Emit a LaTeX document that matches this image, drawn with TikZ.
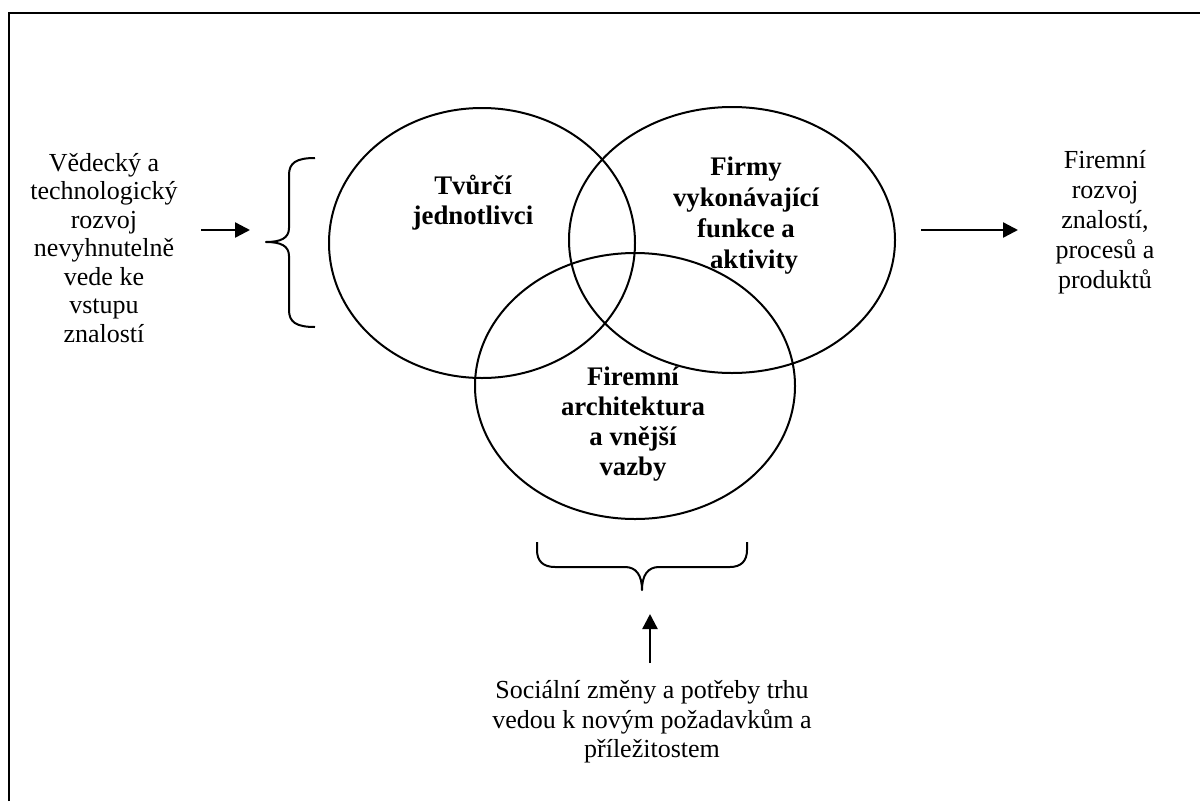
\documentclass[tikz,border=0pt]{standalone}
\usepackage{fontspec}
\setmainfont{Liberation Serif}
\usetikzlibrary{arrows.meta,shapes.geometric}
\begin{document}
\begin{tikzpicture}[x=1pt,y=-1pt,
  ring/.style={draw,ellipse,line width=2pt,inner sep=0pt},
  plain/.style={align=center,font=\fontsize{26}{28.5}\selectfont},
  loose/.style={align=center,font=\fontsize{26}{30}\selectfont},
  heavy/.style={align=center,font=\fontsize{26.8}{30}\selectfont\bfseries},
  flow/.style={line width=2.4pt,-{Triangle[length=15pt,width=15pt]}},
  brace/.style={line width=2pt,line join=round}]
\useasboundingbox (0,0) rectangle (1200,801);

% frame
\draw[line width=2.5pt] (9,801) -- (9,13) -- (1200,13);

% three overlapping circles
\node[ring,minimum width=306pt,minimum height=270pt] (indiv) at (482,243) {};
\node[ring,minimum width=326pt,minimum height=266pt] (firms) at (732,240) {};
\node[ring,minimum width=320pt,minimum height=266pt] (arch) at (635,386) {};

\node[heavy] (tindiv) at (473,203) {Tvůrčí\\jednotlivci};
\node[heavy,font=\fontsize{26.8}{31}\selectfont\bfseries] (tfirms) at (746,216)
  {Firmy\\vykonávající\\funkce a\\\hspace*{16pt}aktivity};
\node[heavy] (tarch) at (633,424) {Firemní\\architektura\\a vnější\\vazby};

% side and bottom texts
\node[plain] (science) at (104,248) {Vědecký a\\technologický\\rozvoj\\nevyhnutelně\\vede ke\\vstupu\\znalostí};
\node[loose] (output) at (1105,222) {Firemní\\rozvoj\\znalostí,\\procesů a\\produktů};
\node[plain,font=\fontsize{26}{29.5}\selectfont] (social) at (652,722) {Sociální změny a potřeby trhu\\vedou k novým požadavkům a\\příležitostem};

% braces
\draw[brace] (315,158) .. controls (296,158) and (289,163) .. (289,175) -- (289,228)
  .. controls (289,238) and (281,242) .. (266,242)
  .. controls (281,242) and (289,246) .. (289,256) -- (289,310)
  .. controls (289,322) and (296,327) .. (315,327);
\draw[brace] (537,542) -- (537,550) .. controls (537,561) and (543,567) .. (555,567) -- (625,567)
  .. controls (636,567) and (642,575) .. (642,590)
  .. controls (642,575) and (648,567) .. (659,567) -- (730,567)
  .. controls (741,567) and (747,561) .. (747,550) -- (747,542);

% arrows
\coordinate (inA) at (201,230);
\coordinate (inB) at (250,230);
\coordinate (outA) at (921,230);
\coordinate (outB) at (1018,230);
\coordinate (upA) at (650,663);
\coordinate (upB) at (650,614);
\draw[flow] (inA) -- (inB);
\draw[flow] (outA) -- (outB);
\draw[flow] (upA) -- (upB);
\end{tikzpicture}
\end{document}
